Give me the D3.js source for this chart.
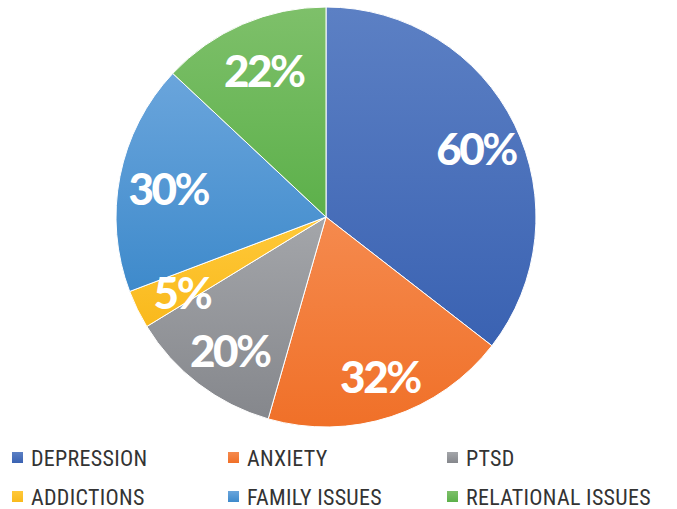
<!DOCTYPE html>
<html>
<head>
<meta charset="utf-8">
<script src="https://cdn.jsdelivr.net/npm/d3@7"></script>
<style>
  body { margin: 0; background: #fff; }
</style>
</head>
<body>
<div id="container"></div>
<script>
// data
let categories = ["DEPRESSION", "ANXIETY", "PTSD", "ADDICTIONS", "FAMILY ISSUES", "RELATIONAL ISSUES"];
let values = [60, 32, 20, 5, 30, 22];
let colorsTop = ["#5c80c4", "#f58a4e", "#a4a6aa", "#ffc93a", "#6aa5dc", "#7ec06a"];
let colorsBottom = ["#3a62b2", "#f07028", "#85878c", "#f9b91c", "#3e8acb", "#5cb04a"];

let width = 677, height = 509;
let cx = 326, cy = 217, radius = 210;

let svg = d3.select('#container')
    .append('svg')
    .attr("width", width)
    .attr("height", height);

let defs = svg.append("defs");
categories.forEach((c, i) => {
    let g = defs.append("linearGradient")
        .attr("id", "grad" + i)
        .attr("x1", 0).attr("y1", 0).attr("x2", 0).attr("y2", 1);
    g.append("stop").attr("offset", "0%").attr("stop-color", colorsTop[i]);
    g.append("stop").attr("offset", "100%").attr("stop-color", colorsBottom[i]);
});

let pie = d3.pie().sort(null).value(d => d);
let arcs = pie(values);

let arc = d3.arc().innerRadius(0).outerRadius(radius);
let labelArc = d3.arc().innerRadius(radius * 0.78).outerRadius(radius * 0.78);

let g = svg.append("g").attr("transform", `translate(${cx},${cy})`);

g.selectAll("path")
    .data(arcs)
    .enter()
    .append("path")
    .attr("d", arc)
    .attr("fill", (d, i) => `url(#grad${i})`)
    .attr("stroke", "#fff")
    .attr("stroke-width", 1);

let labels = g.selectAll("text")
    .data(arcs)
    .enter()
    .append("text")
    .attr("transform", d => {
        let c = labelArc.centroid(d);
        return `translate(${c[0] + 3},${c[1] + 4})`;
    })
    .attr("text-anchor", "middle")
    .attr("dy", "0.36em")
    .attr("fill", "#fff")
    .style("font-family", "Lato, 'Open Sans', sans-serif")
    .style("font-size", "44px")
    .style("letter-spacing", "-2.5px");

labels.append("tspan")
    .style("font-weight", 900)
    .text(d => d.data);
labels.append("tspan")
    .style("font-weight", 700)
    .text("%");

// legend
let legend = svg.append("g");
let colX = [12, 228, 447];
let rowY = [458, 497];
let items = legend.selectAll("g")
    .data(categories)
    .enter()
    .append("g")
    .attr("transform", (d, i) => `translate(${colX[i % 3]},${rowY[Math.floor(i / 3)]})`);

items.append("rect")
    .attr("x", 0).attr("y", -6)
    .attr("width", 11).attr("height", 11)
    .attr("fill", (d, i) => `url(#grad${i})`);

items.append("text")
    .attr("x", 19)
    .attr("dy", "0.36em")
    .attr("fill", "#333")
    .style("font-family", "'Liberation Sans Narrow', 'Roboto Condensed', Roboto, sans-serif")
    .style("font-size", "22px")
    .style("letter-spacing", "0.3px")
    .text(d => d);
</script>
</body>
</html>
